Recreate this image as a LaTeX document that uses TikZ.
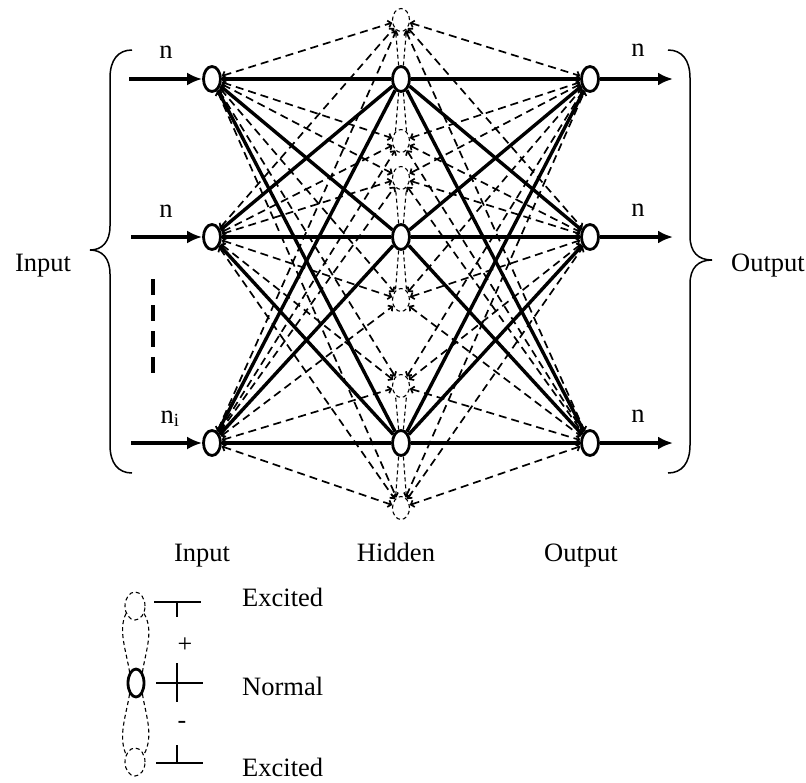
\documentclass[tikz,border=0pt]{standalone}
\usepackage{fontspec}
\setmainfont{Liberation Serif}
\usetikzlibrary{shapes.geometric,arrows.meta,backgrounds}
\begin{document}
\begin{tikzpicture}[x=1pt,y=-1pt,
  neuron/.style={ellipse,draw,line width=2.8pt,fill=white,minimum width=17pt,minimum height=25pt,inner sep=0pt},
  ghost/.style={ellipse,draw,line width=1.1pt,dash pattern=on 4pt off 3pt,minimum width=17pt,minimum height=23pt,inner sep=0pt},
  conn/.style={line width=1.7pt,dash pattern=on 8pt off 5pt,{Straight Barb[length=3pt,width=7pt]}-{Straight Barb[length=3pt,width=7pt]}},
  lobe/.style={line width=1.1pt,dash pattern=on 4pt off 3pt},
  strong/.style={line width=3.4pt},
  feed/.style={line width=3.2pt,-{Latex[length=15pt,width=13pt]}},
  brace/.style={line width=1.5pt},
  lbl/.style={font=\fontsize{26.5}{30}\selectfont,inner sep=0pt},
  sgn/.style={font=\fontsize{26}{28}\selectfont,inner sep=0pt}]
\useasboundingbox (0,0) rectangle (806,782);

% layers
\node[neuron] (in1) at (212,79) {};
\node[neuron] (in2) at (212,237) {};
\node[neuron] (in3) at (212,443) {};
\node[neuron] (hid1) at (401,79) {};
\node[neuron] (hid2) at (401,237) {};
\node[neuron] (hid3) at (401,443) {};
\node[neuron] (out1) at (590,79) {};
\node[neuron] (out2) at (590,237) {};
\node[neuron] (out3) at (590,443) {};

% excited states of the hidden neurons
\node[ghost] (g1) at (401,20) {};
\node[ghost] (g2) at (401,141) {};
\node[ghost] (g3) at (401,178) {};
\node[ghost] (g4) at (401,300) {};
\node[ghost] (g5) at (401,386) {};
\node[ghost] (g6) at (401,508) {};

\begin{pgfonlayer}{background}
  \foreach \i in {1,2,3}{
    \foreach \g in {1,...,6}{
      \draw[conn] (in\i) -- (g\g);
      \draw[conn] (g\g) -- (out\i);
    }
  }
  \foreach \i in {1,2,3}{
    \foreach \j in {1,2,3}{
      \draw[strong] (in\i) -- (hid\j);
      \draw[strong] (hid\i) -- (out\j);
    }
  }
\end{pgfonlayer}

% links between each hidden neuron and its excited states
\foreach \h/\a/\b in {1/1/2,2/3/4,3/5/6}{
  \draw[lobe] (hid\h.100) -- (g\a.240);
  \draw[lobe] (hid\h.80) -- (g\a.300);
  \draw[lobe] (hid\h.260) -- (g\b.120);
  \draw[lobe] (hid\h.280) -- (g\b.60);
}

% inputs and outputs
\coordinate (s1) at (129,79);
\coordinate (s2) at (131,237);
\coordinate (s3) at (131,443);
\coordinate (t1) at (673,79);
\coordinate (t2) at (673,237);
\coordinate (t3) at (673,443);
\foreach \k in {1,2,3}{
  \draw[feed] (s\k) -- (in\k);
  \draw[feed] (out\k) -- (t\k);
}
\node[lbl,anchor=base] (ln1) at (166,58) {n};
\node[lbl,anchor=base] (ln2) at (166,217) {n};
\node[lbl,anchor=base] (ln3) at (170,423) {n\textsubscript{i}};
\node[lbl,anchor=base] (rn1) at (638,56) {n};
\node[lbl,anchor=base] (rn2) at (638,216) {n};
\node[lbl,anchor=base] (rn3) at (638,422) {n};

% omitted inputs
\coordinate (d1) at (153,279);
\coordinate (d2) at (153,374);
\draw[line width=4pt,dash pattern=on 16pt off 10pt] (d1) -- (d2);

% braces
\draw[brace] (132,50) .. controls (118,50) and (110,60) .. (110,78) -- (110,226)
  .. controls (110,242) and (102,250) .. (90,250)
  .. controls (102,250) and (110,258) .. (110,274) -- (110,445)
  .. controls (110,463) and (118,473) .. (132,473);
\draw[brace] (668,50) .. controls (682,50) and (690,60) .. (690,78) -- (690,236)
  .. controls (690,252) and (698,260) .. (712,260)
  .. controls (698,260) and (690,268) .. (690,284) -- (690,445)
  .. controls (690,463) and (682,473) .. (668,473);
\node[lbl,anchor=base] (tin) at (43,271) {Input};
\node[lbl,anchor=base west] (tout) at (731,271) {Output};

% layer captions
\node[lbl,anchor=base] (cin) at (202,561) {Input};
\node[lbl,anchor=base] (chid) at (396,561) {Hidden};
\node[lbl,anchor=base] (cout) at (581,561) {Output};

% legend
\node[neuron,minimum width=16pt,minimum height=28pt] (ln) at (136,683) {};
\node[ghost,minimum width=20pt,minimum height=28pt] (lg1) at (135,606) {};
\node[ghost,minimum width=20pt,minimum height=28pt] (lg2) at (135,762) {};
\draw[lobe] (lg1.-40) .. controls (154,630) and (146,650) .. (ln.60);
\draw[lobe] (lg1.-140) .. controls (118,630) and (126,650) .. (ln.120);
\draw[lobe] (ln.-60) .. controls (146,716) and (154,736) .. (lg2.40);
\draw[lobe] (ln.-120) .. controls (126,716) and (118,736) .. (lg2.140);

\draw[line width=1.6pt] (154,602) -- (201,602) (177,602) -- (177,617);
\draw[line width=1.6pt] (156,683) -- (203,683) (177,663) -- (177,702);
\draw[line width=1.6pt] (156,763) -- (203,763) (177,745) -- (177,763);
\node[sgn] (plus) at (185,645) {+};
\node[sgn] (minus) at (182,725) {-};
\node[lbl,anchor=base west] (e1) at (242,606) {Excited};
\node[lbl,anchor=base west] (nm) at (242,695) {Normal};
\node[lbl,anchor=base west] (e2) at (242,776) {Excited};
\end{tikzpicture}
\end{document}
